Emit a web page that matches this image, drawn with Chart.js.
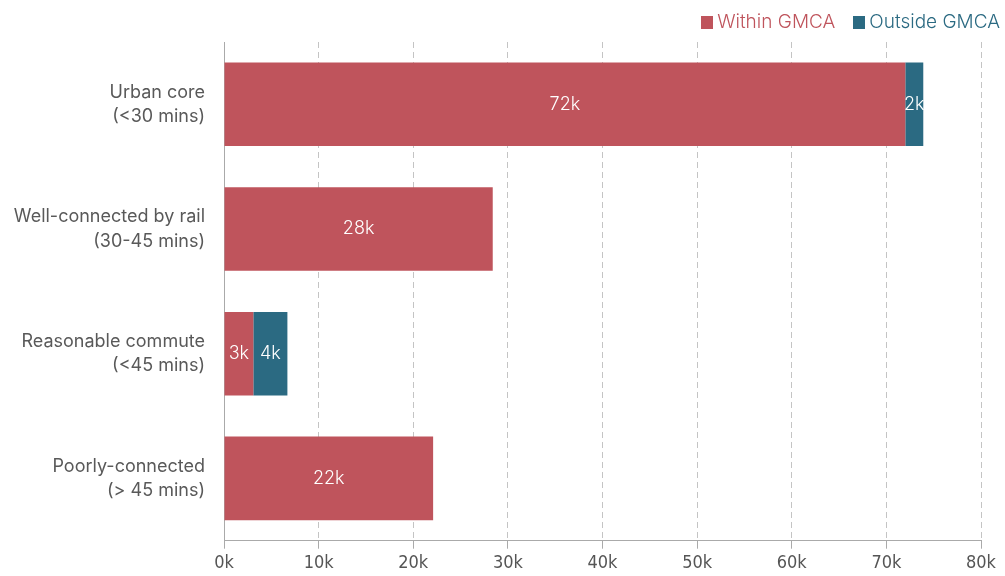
<!DOCTYPE html>
<html>
<head>
<meta charset="utf-8">
<script src="https://cdn.jsdelivr.net/npm/chart.js@4/dist/chart.umd.min.js"></script>
<style>
  body { margin: 0; background: #fff; }
  #wrap { position: relative; width: 1005px; height: 576px; }
  #legend { position: absolute; top: 10px; right: 5px; font: 300 19px Inter, Roboto, sans-serif; white-space: nowrap; }
  #legend span.item { margin-left: 18px; }
  #legend span.box { display: inline-block; width: 12px; height: 13px; margin-right: 4px; vertical-align: -1px; }
</style>
</head>
<body>
<div id="wrap">
  <canvas id="myChart" width="1005" height="576"></canvas>
  <div id="legend"></div>
</div>
<script>
// values in thousands of people
var categories = [
    ["Urban core", "(<30 mins)"],
    ["Well-connected by rail", "(30-45 mins)"],
    ["Reasonable commute", "(<45 mins)"],
    ["Poorly-connected", "(> 45 mins)"]
]
var withinGMCA = [72, 28.4, 3.1, 22.1]
var outsideGMCA = [1.9, null, 3.6, null]
var xTicks = [0, 10, 20, 30, 40, 50, 60, 70, 80]

var red = "#BF545C"
var blue = "#2B6A82"
var labelFont = { family: "Inter", size: 18, weight: 400, lineHeight: 1.35 }

// white value labels in the middle of each bar segment
var barLabels = {
    id: "barLabels",
    afterDatasetsDraw(chart) {
        var ctx = chart.ctx
        ctx.save()
        ctx.fillStyle = "#fff"
        ctx.font = "300 18px Inter"
        ctx.textAlign = "center"
        ctx.textBaseline = "middle"
        chart.data.datasets.forEach((ds, i) => {
            chart.getDatasetMeta(i).data.forEach((bar, j) => {
                var v = ds.data[j]
                if (v == null) return
                ctx.fillText(Math.round(v) + "k", (bar.x + bar.base) / 2, bar.y)
            })
        })
        ctx.restore()
    }
}

var chartField = document.querySelector("#myChart").getContext("2d")

var myChart = new Chart(chartField, {
    type: "bar",
    data: {
        labels: categories,
        datasets: [{
            label: "Within GMCA",
            data: withinGMCA,
            backgroundColor: red,
            borderWidth: 0,
            barPercentage: 0.67,
            categoryPercentage: 1
        }, {
            label: "Outside GMCA",
            data: outsideGMCA,
            backgroundColor: blue,
            borderWidth: 0,
            barPercentage: 0.67,
            categoryPercentage: 1
        }]
    },
    options: {
        indexAxis: "y",
        responsive: false,
        animation: false,
        layout: { padding: { top: 42, right: 24, bottom: 0, left: 0 } },
        plugins: {
            tooltip: { enabled: false },
            legend: { display: false }
        },
        scales: {
            x: {
                stacked: true,
                min: 0,
                max: 80,
                afterBuildTicks(scale) {
                    scale.ticks = xTicks.map(v => ({ value: v }))
                },
                afterFit(scale) { scale.height = 30 },
                ticks: {
                    color: "#555",
                    font: { family: "DejaVu Sans Condensed", size: 18, weight: 300 },
                    padding: 4,
                    callback: v => v + "k"
                },
                grid: {
                    color: "#c4c4c4",
                    lineWidth: 1,
                    tickLength: 8,
                    tickColor: "#aaa",
                    tickBorderDash: []
                },
                border: { color: "#aaa", width: 1, dash: [6, 4] }
            },
            y: {
                stacked: true,
                afterFit(scale) { scale.width = 224 },
                ticks: {
                    color: "#595959",
                    font: labelFont,
                    padding: 11
                },
                grid: { display: false },
                border: { display: true, color: "#aaa", width: 1 }
            }
        }
    },
    plugins: [barLabels]
})

// html legend built from the datasets
var legend = document.querySelector("#legend")
myChart.data.datasets.forEach(ds => {
    var item = document.createElement("span")
    item.className = "item"
    item.style.color = ds.backgroundColor
    var box = document.createElement("span")
    box.className = "box"
    box.style.background = ds.backgroundColor
    item.appendChild(box)
    item.appendChild(document.createTextNode(ds.label))
    legend.appendChild(item)
})
</script>
</body>
</html>
